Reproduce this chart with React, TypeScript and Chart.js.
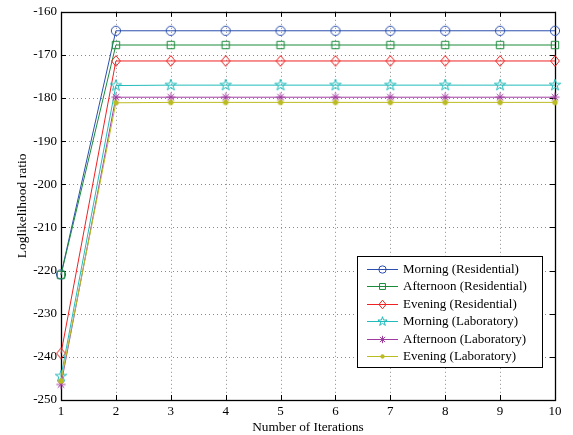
import React, { useEffect, useRef } from 'react';
import { Chart, registerables } from 'chart.js';

Chart.register(...registerables);

const iterations = [1, 2, 3, 4, 5, 6, 7, 8, 9, 10];
const morningResidential = [-220.9, -164.4, -164.4, -164.4, -164.4, -164.4, -164.4, -164.4, -164.4, -164.4];
const afternoonResidential = [-221.0, -167.7, -167.7, -167.7, -167.7, -167.7, -167.7, -167.7, -167.7, -167.7];
const eveningResidential = [-239.2, -171.4, -171.4, -171.4, -171.4, -171.4, -171.4, -171.4, -171.4, -171.4];
const morningLaboratory = [-244.5, -177.1, -177.0, -177.0, -177.0, -177.0, -177.0, -177.0, -177.0, -177.0];
const afternoonLaboratory = [-246.4, -179.8, -179.8, -179.8, -179.8, -179.8, -179.8, -179.8, -179.8, -179.8];
const eveningLaboratory = [-245.6, -181.1, -181.0, -181.0, -181.0, -181.0, -181.0, -181.0, -181.0, -181.0];

const seriesLabels = [
  'Morning (Residential)',
  'Afternoon (Residential)',
  'Evening (Residential)',
  'Morning (Laboratory)',
  'Afternoon (Laboratory)',
  'Evening (Laboratory)',
];
const seriesData = [
  morningResidential,
  afternoonResidential,
  eveningResidential,
  morningLaboratory,
  afternoonLaboratory,
  eveningLaboratory,
];
const seriesColors = ['#2b4fae', '#1b8a3b', '#ee2222', '#22bbbb', '#a03ca0', '#bbbb22'];
const seriesMarkers = ['circle', 'square', 'diamond', 'pentagram', 'asterisk', 'dot'];

const xTicks = iterations;
const yMin = -250;
const yMax = -160;
const yStep = 10;

const FONT = '"Liberation Serif", "Times New Roman", serif';

function drawMarker(ctx: CanvasRenderingContext2D, kind: string, x: number, y: number, color: string, s: number) {
  ctx.save();
  ctx.strokeStyle = color;
  ctx.fillStyle = color;
  ctx.lineWidth = 1;
  ctx.setLineDash([]);
  ctx.beginPath();
  if (kind === 'circle') {
    ctx.arc(x, y, 4.6 * s, 0, Math.PI * 2);
    ctx.stroke();
  } else if (kind === 'square') {
    const h = 3.7 * s;
    ctx.rect(x - h, y - h, 2 * h, 2 * h);
    ctx.stroke();
  } else if (kind === 'diamond') {
    const w = 4.4 * s, hh = 5.4 * s;
    ctx.moveTo(x, y - hh);
    ctx.lineTo(x + w, y);
    ctx.lineTo(x, y + hh);
    ctx.lineTo(x - w, y);
    ctx.closePath();
    ctx.stroke();
  } else if (kind === 'pentagram') {
    const R = 6 * s, r = R * 0.382;
    for (let i = 0; i < 10; i++) {
      const rad = -Math.PI / 2 + (i * Math.PI) / 5;
      const rr = i % 2 === 0 ? R : r;
      const px = x + rr * Math.cos(rad);
      const py = y + rr * Math.sin(rad);
      if (i === 0) ctx.moveTo(px, py);
      else ctx.lineTo(px, py);
    }
    ctx.closePath();
    ctx.stroke();
  } else if (kind === 'asterisk') {
    const r = 4.6 * s;
    for (let i = 0; i < 4; i++) {
      const a = (i * Math.PI) / 4;
      ctx.moveTo(x - r * Math.cos(a), y - r * Math.sin(a));
      ctx.lineTo(x + r * Math.cos(a), y + r * Math.sin(a));
    }
    ctx.stroke();
  } else if (kind === 'dot') {
    ctx.arc(x, y, 2.7 * s, 0, Math.PI * 2);
    ctx.fill();
  }
  ctx.restore();
}

function markerCanvas(kind: string, color: string, s: number) {
  const size = 18;
  const c = document.createElement('canvas');
  c.width = size;
  c.height = size;
  const cx = c.getContext('2d')!;
  drawMarker(cx, kind, size / 2, size / 2, color, s);
  return c;
}

const framePlugin = {
  id: 'frame',
  beforeDatasetsDraw(chart: any) {
    const { ctx, chartArea, scales } = chart;
    const { left, right, top, bottom } = chartArea;
    const x = scales.x;
    const y = scales.y;
    ctx.save();
    ctx.strokeStyle = '#8a8a8a';
    ctx.lineWidth = 1;
    ctx.setLineDash([1, 3]);
    ctx.beginPath();
    xTicks.forEach((v) => {
      const px = Math.round(x.getPixelForValue(v)) + 0.5;
      if (px <= left + 1 || px >= right - 1) return;
      ctx.moveTo(px, top);
      ctx.lineTo(px, bottom);
    });
    for (let v = yMin + yStep; v < yMax; v += yStep) {
      const py = Math.round(y.getPixelForValue(v)) + 0.5;
      ctx.moveTo(left, py);
      ctx.lineTo(right, py);
    }
    ctx.stroke();
    ctx.setLineDash([]);
    ctx.strokeStyle = '#000';
    ctx.lineWidth = 1;
    ctx.beginPath();
    const tl = 5;
    xTicks.forEach((v) => {
      const px = Math.round(x.getPixelForValue(v)) + 0.5;
      ctx.moveTo(px, bottom);
      ctx.lineTo(px, bottom - tl);
      ctx.moveTo(px, top);
      ctx.lineTo(px, top + tl);
    });
    for (let v = yMin; v <= yMax; v += yStep) {
      const py = Math.round(y.getPixelForValue(v)) + 0.5;
      ctx.moveTo(left, py);
      ctx.lineTo(left + tl, py);
      ctx.moveTo(right, py);
      ctx.lineTo(right - tl, py);
    }
    ctx.stroke();
    ctx.lineWidth = 1.3;
    ctx.strokeRect(Math.round(left) + 0.5, Math.round(top) + 0.5, Math.round(right - left), Math.round(bottom - top));
    ctx.restore();
  },
  afterDraw(chart: any) {
    const { ctx } = chart;
    const bx = 357, by = 256, bw = 185, bh = 111;
    ctx.save();
    ctx.fillStyle = '#fff';
    ctx.fillRect(bx, by, bw, bh);
    ctx.strokeStyle = '#000';
    ctx.lineWidth = 1;
    ctx.strokeRect(bx + 0.5, by + 0.5, bw, bh);
    ctx.font = `13px ${FONT}`;
    ctx.textBaseline = 'middle';
    ctx.textAlign = 'left';
    seriesLabels.forEach((label, i) => {
      const cy = 269 + i * 17.4;
      ctx.strokeStyle = seriesColors[i];
      ctx.lineWidth = 1;
      ctx.beginPath();
      ctx.moveTo(367, Math.round(cy) + 0.5);
      ctx.lineTo(398, Math.round(cy) + 0.5);
      ctx.stroke();
      drawMarker(ctx, seriesMarkers[i], 382.5, Math.round(cy) + 0.5, seriesColors[i], 0.8);
      ctx.fillStyle = '#000';
      ctx.fillText(label, 403, cy + 0.5);
    });
    ctx.restore();
  },
};

export default function App() {
  const ref = useRef<HTMLCanvasElement>(null);
  useEffect(() => {
    document.body.style.margin = '0';
    const canvas = ref.current!;
    const datasets = seriesLabels.map((label, i) => ({
      label,
      data: seriesData[i].map((v, j) => ({ x: iterations[j], y: v })),
      borderColor: seriesColors[i],
      backgroundColor: seriesColors[i],
      borderWidth: 1,
      pointStyle: markerCanvas(seriesMarkers[i], seriesColors[i], 1) as any,
      pointRadius: 5,
      tension: 0,
      clip: false as any,
      order: seriesLabels.length - i,
    }));
    const chart = new Chart(canvas, {
      type: 'line',
      data: { datasets },
      options: {
        animation: false,
        responsive: false,
        maintainAspectRatio: false,
        layout: { padding: { left: 0, right: 18, top: 11, bottom: 0 } },
        plugins: { legend: { display: false }, tooltip: { enabled: false } },
        scales: {
          x: {
            type: 'linear',
            min: 1,
            max: 10,
            grid: { display: false, drawTicks: false },
            border: { display: false },
            ticks: {
              stepSize: 1,
              padding: 4,
              color: '#000',
              font: { family: FONT, size: 13 },
              maxRotation: 0,
            },
            title: {
              display: true,
              text: 'Number of Iterations',
              color: '#000',
              font: { family: FONT, size: 13.3 },
              padding: { top: 0, bottom: 0 },
            },
            afterFit(scale: any) {
              scale.height = 35;
            },
          },
          y: {
            type: 'linear',
            min: yMin,
            max: yMax,
            grid: { display: false, drawTicks: false },
            border: { display: false },
            ticks: {
              stepSize: yStep,
              padding: 4,
              color: '#000',
              font: { family: FONT, size: 13 },
            },
            title: {
              display: true,
              text: 'Loglikelihood ratio',
              color: '#000',
              font: { family: FONT, size: 13.5 },
              padding: { top: 14, bottom: 4 },
            },
            afterFit(scale: any) {
              scale.width = 61;
            },
          },
        },
      },
      plugins: [framePlugin],
    });
    return () => chart.destroy();
  }, []);
  return (
    <div style={{ width: 573, height: 435 }}>
      <canvas ref={ref} width={573} height={435} style={{ display: 'block' }} />
    </div>
  );
}
